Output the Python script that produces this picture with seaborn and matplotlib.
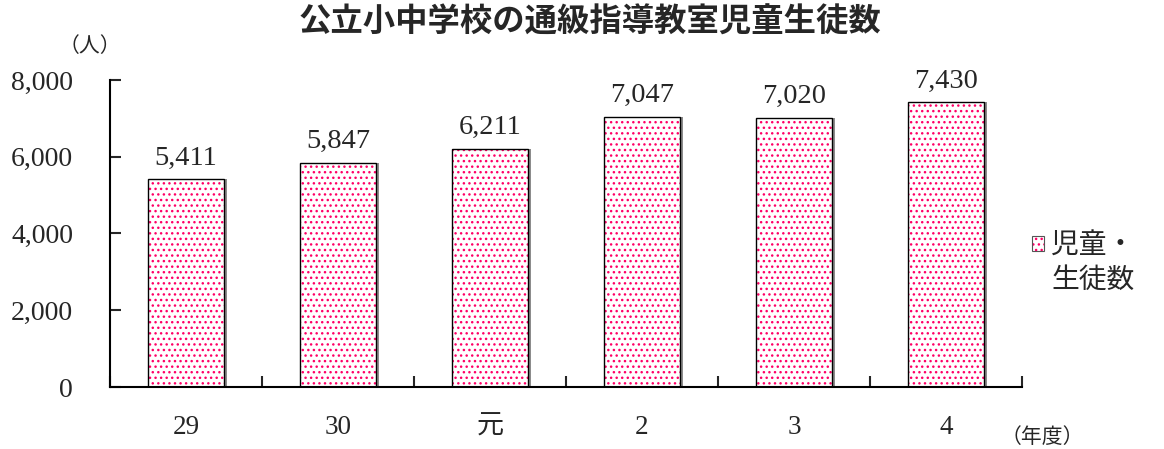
import matplotlib
matplotlib.use("Agg")
import matplotlib.pyplot as plt
import seaborn as sns
from matplotlib.patches import Patch, Rectangle
from matplotlib.legend_handler import HandlerPatch
from matplotlib.ticker import FuncFormatter, FixedLocator

categories = ["29", "30", "元", "2", "3", "4"]
values = [5411, 5847, 6211, 7047, 7020, 7430]
title = "公立小中学校の通級指導教室児童生徒数"
series_name = "児童・\n生徒数"

sns.set_style("white")
plt.rcParams['font.family'] = ['Liberation Serif', 'Noto Sans CJK JP', 'DejaVu Sans']
plt.rcParams['hatch.linewidth'] = 1.0

pink = "#FF0066"
fig = plt.figure(figsize=(11.64, 4.49), dpi=100)
ax = fig.add_axes([0.0945, 0.138, 0.7835, 0.684])

sns.barplot(x=categories, y=values, order=categories, color="white",
            edgecolor=pink, hatch="...", linewidth=0, width=0.5, ax=ax,
            zorder=2)
hatched = list(ax.patches)
for p in hatched:
    x, y = p.get_x(), p.get_y()
    w, h = p.get_width(), p.get_height()
    ax.add_patch(Rectangle((x + w, y), 0.018, h, facecolor="#8c8c8c",
                           edgecolor="none", zorder=1.9))
sns.barplot(x=categories, y=values, order=categories, fill=False,
            edgecolor="black", linewidth=1.0, width=0.5, ax=ax, zorder=3)

ax.bar_label(ax.containers[0], labels=[f"{v:,}" for v in values],
             padding=6, fontsize=20.5, family=['Liberation Serif'])

ax.set_xlim(-0.5, len(categories) - 0.5)
ax.set_ylim(0, 8000)
ax.set_yticks([0, 2000, 4000, 6000, 8000])
ax.yaxis.set_major_formatter(FuncFormatter(lambda v, _: f"{int(v):,}"))
ax.tick_params(axis='y', direction='in', length=8, width=1.5, pad=26.5,
               labelsize=20, left=True)
ax.tick_params(axis='x', which='major', length=0, pad=20, labelsize=19.5)
ax.xaxis.set_minor_locator(FixedLocator([i - 0.5 for i in range(len(categories) + 1)]))
ax.tick_params(axis='x', which='minor', direction='in', length=8, width=1.5,
               bottom=True)
for s in ["top", "right"]:
    ax.spines[s].set_visible(False)
for s in ["left", "bottom"]:
    ax.spines[s].set_linewidth(1.5)
    ax.spines[s].set_color("black")
ax.set_xlabel("")
ax.set_ylabel("")

fig.text(0.507, 0.951, title, ha="center", va="center", fontsize=23.3,
         fontweight="bold", family=['Noto Sans CJK JP'])
fig.text(0.077, 0.897, "（人）", ha="center", va="center", fontsize=15,
         family=['Noto Sans CJK JP'])
fig.text(0.895, 0.027, "（年度）", ha="center", va="center", fontsize=15,
         family=['Noto Sans CJK JP'])


def raised_box(legend, orig_handle, xdescent, ydescent, width, height, fontsize):
    return Rectangle((-xdescent, -ydescent + 0.75 * fontsize), width, height)


h_fill = Patch(facecolor="white", edgecolor=pink, hatch="...", linewidth=0)
h_edge = Patch(facecolor="none", edgecolor="#555555", linewidth=0.8)
leg = fig.legend([(h_fill, h_edge)], [series_name], loc="center left",
                 bbox_to_anchor=(0.865, 0.415), frameon=False,
                 prop={'family': 'Noto Sans CJK JP', 'size': 20},
                 handlelength=0.45, handleheight=0.45, handletextpad=0.25,
                 handler_map={Patch: HandlerPatch(patch_func=raised_box)})

fig.savefig("out.png", dpi=100)
